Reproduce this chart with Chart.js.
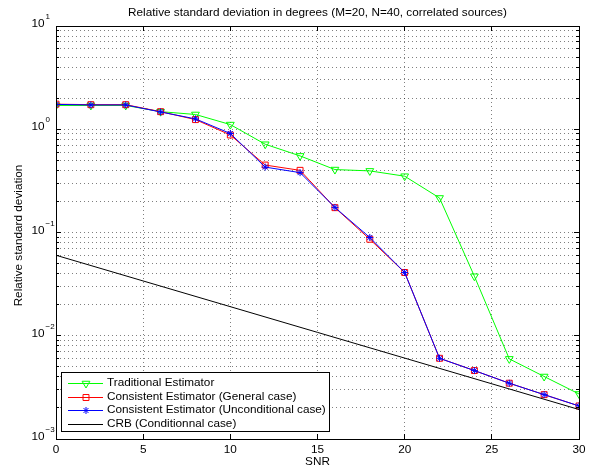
<!DOCTYPE html>
<html>
<head>
<meta charset="utf-8">
<script src="https://cdn.jsdelivr.net/npm/chart.js@4/dist/chart.umd.min.js"></script>
<style>
html,body{margin:0;padding:0;background:#fff;}
#c{display:block;}
</style>
</head>
<body>
<canvas id="c" width="602" height="468"></canvas>
<script>
// ---- data ----
const snr = [0, 2, 4, 6, 8, 10, 12, 14, 16, 18, 20, 22, 24, 26, 28, 30];
const traditional = [1.70, 1.70, 1.70, 1.48, 1.39, 1.11, 0.716, 0.552, 0.407, 0.395, 0.351, 0.216, 0.0377, 0.00597, 0.00403, 0.00273];
const consistentGeneral = [1.75, 1.73, 1.73, 1.48, 1.24, 0.88, 0.45, 0.40, 0.174, 0.086, 0.041, 0.00605, 0.0046, 0.00347, 0.00269, 0.00209];
const consistentUncond = [1.74, 1.72, 1.72, 1.47, 1.26, 0.91, 0.43, 0.38, 0.175, 0.0895, 0.041, 0.00605, 0.0046, 0.00347, 0.00269, 0.00209];
const crbSnr = [0, 30];
const crbValues = [0.0602, 0.00193];

const xTickValues = [0, 5, 10, 15, 20, 25, 30];
const yDecadeExponents = [-3, -2, -1, 0, 1];
const seriesNames = [
  'Traditional Estimator',
  'Consistent Estimator (General case)',
  'Consistent Estimator (Unconditional case)',
  'CRB (Conditionnal case)'
];
const titleText = 'Relative standard deviation in degrees (M=20, N=40, correlated sources)';
const xAxisLabel = 'SNR';
const yAxisLabel = 'Relative standard deviation';

// ---- helpers ----
const FONT = '"Liberation Sans", Arial, Helvetica, sans-serif';
const FS = '11.75px ';
const pairs = (xs, ys) => xs.map((x, i) => ({x: x, y: ys[i]}));
const yTickValues = [];
yDecadeExponents.forEach(e => {
  if (e === yDecadeExponents[yDecadeExponents.length - 1]) { yTickValues.push(Math.pow(10, e)); return; }
  for (let m = 1; m <= 9; m++) yTickValues.push(+(m * Math.pow(10, e)).toPrecision(6));
});
const isDecade = v => Math.abs(Math.log10(v) - Math.round(Math.log10(v))) < 1e-9;
const align = p => Math.round(p - 0.5) + 0.5;

const GRID_COLOR = 'rgba(0,0,0,0.5)';

const datasets = [
  {label: seriesNames[0], data: pairs(snr, traditional), borderColor: '#00ff00', backgroundColor: '#00ff00',
   pointStyle: 'triangle', pointRotation: 180, pointRadius: 4.5, pointBorderWidth: 1,
   pointBackgroundColor: 'rgba(0,0,0,0)', pointBorderColor: '#00ff00', order: 3},
  {label: seriesNames[1], data: pairs(snr, consistentGeneral), borderColor: '#ff0000', backgroundColor: '#ff0000',
   pointStyle: 'rect', pointRadius: 4.2, pointBorderWidth: 1,
   pointBackgroundColor: 'rgba(0,0,0,0)', pointBorderColor: '#ff0000', order: 2},
  {label: seriesNames[2], data: pairs(snr, consistentUncond), borderColor: '#0000ff', backgroundColor: '#0000ff',
   pointStyle: 'star', pointRadius: 3.5, pointBorderWidth: 1,
   pointBackgroundColor: 'rgba(0,0,0,0)', pointBorderColor: '#0000ff', order: 1},
  {label: seriesNames[3], data: pairs(crbSnr, crbValues), borderColor: '#000000', backgroundColor: '#000000',
   pointRadius: 0, order: 0}
];
datasets.forEach(d => { d.borderWidth = 1; d.tension = 0; d.fill = false; d.pointHoverRadius = d.pointRadius; });

const decor = {
  id: 'decor',
  afterDraw(chart) {
    const ctx = chart.ctx, ca = chart.chartArea, xs = chart.scales.x, ys = chart.scales.y;
    ctx.save();
    ctx.strokeStyle = '#000';
    ctx.lineWidth = 1;
    ctx.setLineDash([]);
    // inward tick marks
    ctx.beginPath();
    yTickValues.forEach(v => {
      const y = align(ys.getPixelForValue(v));
      const len = isDecade(v) ? 5 : 3;
      ctx.moveTo(ca.left, y); ctx.lineTo(ca.left + len, y);
      ctx.moveTo(ca.right, y); ctx.lineTo(ca.right - len, y);
    });
    xTickValues.forEach(v => {
      const x = align(xs.getPixelForValue(v));
      ctx.moveTo(x, ca.bottom); ctx.lineTo(x, ca.bottom - 5);
      ctx.moveTo(x, ca.top); ctx.lineTo(x, ca.top + 5);
    });
    ctx.stroke();
    // axes box
    const l = align(ca.left), t = align(ca.top), r = align(ca.right), b = align(ca.bottom);
    ctx.strokeRect(l, t, r - l, b - t);

    ctx.fillStyle = '#000';
    // x tick labels
    ctx.font = FS + FONT;
    ctx.textAlign = 'center';
    ctx.textBaseline = 'middle';
    xTickValues.forEach(v => ctx.fillText(String(v), xs.getPixelForValue(v), ca.bottom + 11));
    // y tick labels 10^e
    yDecadeExponents.forEach(e => {
      const y = ys.getPixelForValue(Math.pow(10, e));
      ctx.font = FS + FONT;
      ctx.textAlign = 'right';
      ctx.textBaseline = 'middle';
      ctx.fillText('10', 44.5, y - 2);
      ctx.font = '8px ' + FONT;
      ctx.textAlign = 'left';
      ctx.fillText(String(e).replace('-', '\u2212'), 45.5, y - 9);
    });
    // axis labels
    ctx.font = FS + FONT;
    ctx.textAlign = 'center';
    ctx.textBaseline = 'middle';
    ctx.fillText(xAxisLabel, (ca.left + ca.right) / 2, 462);
    ctx.save();
    ctx.translate(19, (ca.top + ca.bottom) / 2 + 3);
    ctx.rotate(-Math.PI / 2);
    ctx.fillText(yAxisLabel, 0, 0);
    ctx.restore();
    // title
    ctx.fillText(titleText, (ca.left + ca.right) / 2, 13);

    // legend (inside axes, bottom-left)
    const lx = 61.5, ly = 372.5, lw = 268, lh = 59;
    ctx.fillStyle = '#fff';
    ctx.fillRect(lx, ly, lw, lh);
    ctx.strokeStyle = '#000';
    ctx.strokeRect(lx, ly, lw, lh);
    const rowY0 = 382.75, rowStep = 13.75;
    datasets.forEach((d, i) => {
      const y = rowY0 + i * rowStep;
      ctx.strokeStyle = d.borderColor;
      ctx.lineWidth = 1;
      ctx.beginPath();
      ctx.moveTo(68, Math.round(y) + 0.5);
      ctx.lineTo(103, Math.round(y) + 0.5);
      ctx.stroke();
      if (d.pointRadius > 0) {
        ctx.fillStyle = 'rgba(0,0,0,0)';
        Chart.helpers.drawPoint(ctx, {pointStyle: d.pointStyle, radius: d.pointRadius, rotation: d.pointRotation || 0, borderWidth: 1}, 86, Math.round(y) + 0.5);
      }
      ctx.fillStyle = '#000';
      ctx.font = FS + FONT;
      ctx.textAlign = 'left';
      ctx.textBaseline = 'middle';
      ctx.fillText(d.label, 107, y);
    });
    ctx.restore();
  }
};

new Chart(document.getElementById('c'), {
  type: 'line',
  data: {datasets: datasets},
  options: {
    responsive: false,
    devicePixelRatio: 1,
    animation: false,
    events: [],
    layout: {padding: {left: 56, right: 23, top: 26, bottom: 29}},
    plugins: {legend: {display: false}, title: {display: false}, tooltip: {enabled: false}},
    scales: {
      x: {
        type: 'linear', min: 0, max: 30,
        ticks: {display: false},
        afterBuildTicks: s => { s.ticks = xTickValues.map(v => ({value: v})); },
        afterFit: s => { s.height = 0; },
        grid: {color: GRID_COLOR, lineWidth: 1, drawTicks: false},
        border: {display: false, dash: [1, 3]}
      },
      y: {
        type: 'logarithmic', min: 0.001, max: 10,
        ticks: {display: false},
        afterBuildTicks: s => { s.ticks = yTickValues.map(v => ({value: v})); },
        afterFit: s => { s.width = 0; },
        grid: {color: GRID_COLOR, lineWidth: 1, drawTicks: false},
        border: {display: false, dash: [1, 3]}
      }
    }
  },
  plugins: [decor]
});
</script>
</body>
</html>
